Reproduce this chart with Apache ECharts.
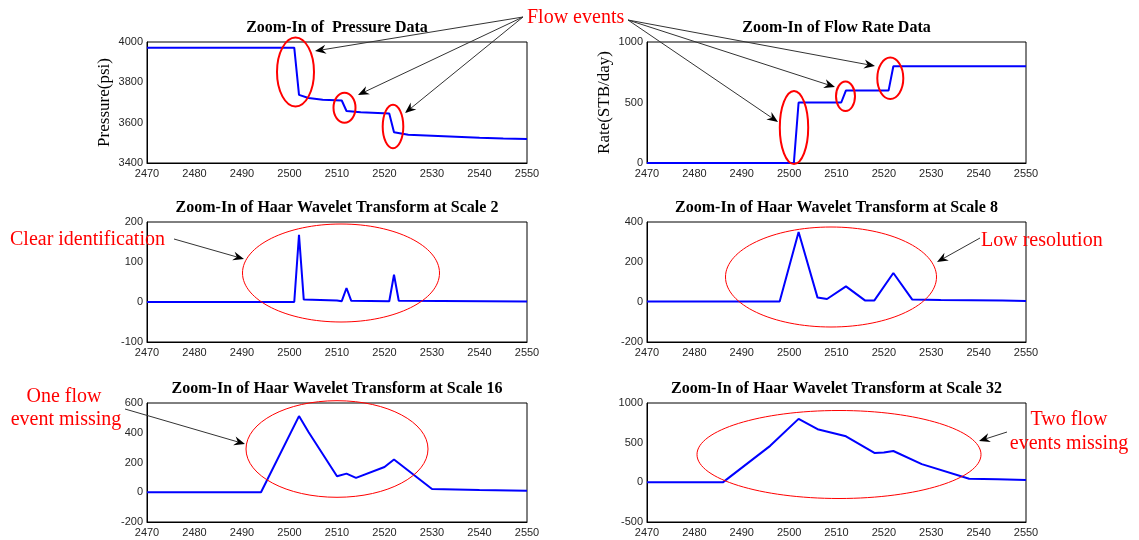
<!DOCTYPE html>
<html>
<head>
<meta charset="utf-8">
<script src="https://cdn.jsdelivr.net/npm/echarts@6/dist/echarts.min.js"></script>
<style>
  html, body { margin: 0; padding: 0; background: #fff; }
  #chart { width: 1139px; height: 540px; }
</style>
</head>
<body>
<div id="chart"></div>
<script>
// Shared time axis (hours)
const timeRange = [2470, 2550];
const timeStep = 10;

// Pressure and flow-rate records around the three flow events
const pressure = [[2470,3972],[2501,3972],[2502,3738],[2504,3722],[2507,3714],[2511,3710],[2512,3658],[2515,3652],[2521,3645],[2522,3552],[2525,3540],[2530,3535],[2535,3530],[2540,3525],[2545,3521],[2550,3519]];
const rate = [[2470,0],[2501,0],[2502,500],[2511,500],[2512,600],[2521,600],[2522,800],[2550,800]];

// Haar wavelet coefficients of the pressure signal at increasing scales
const haar2 = [[2470,0],[2501,0],[2502,168],[2503,6],[2510,4],[2511,2],[2512,35],[2513,3],[2521,2],[2522,68],[2523,3],[2550,1]];
const haar8 = [[2470,2],[2498,2],[2502,350],[2506,22],[2508,15],[2512,78],[2516,8],[2518,8],[2522,145],[2526,12],[2532,10],[2545,7],[2550,5]];
const haar16 = [[2470,0],[2494,0],[2502,512],[2504,405],[2510,107],[2512,125],[2514,97],[2520,170],[2522,220],[2530,22],[2540,15],[2550,10]];
const haar32 = [[2470,0],[2486,0],[2496,460],[2502,800],[2506,670],[2512,580],[2518,370],[2520,375],[2522,395],[2528,230],[2538,45],[2544,40],[2550,30]];

// Value axis ranges: [min, max, step]
const yRanges = [[3400,4000,200],[0,1000,500],[-100,200,100],[-200,400,200],[-200,600,200],[-500,1000,500]];
const panelTitles = [
  'Zoom-In of  Pressure Data',
  'Zoom-In of Flow Rate Data',
  'Zoom-In of Haar Wavelet Transform at Scale 2',
  'Zoom-In of Haar Wavelet Transform at Scale 8',
  'Zoom-In of Haar Wavelet Transform at Scale 16',
  'Zoom-In of Haar Wavelet Transform at Scale 32'
];
const yNames = ['Pressure(psi)', 'Rate(STB/day)', '', '', '', ''];
const seriesData = [pressure, rate, haar2, haar8, haar16, haar32];

// Panel boxes in a 3x2 layout
const grids = [
  { left: 147, top: 42,  width: 380, height: 121 },
  { left: 647, top: 42,  width: 379, height: 121 },
  { left: 147, top: 222, width: 380, height: 120 },
  { left: 647, top: 222, width: 379, height: 120 },
  { left: 147, top: 403, width: 380, height: 119 },
  { left: 647, top: 403, width: 379, height: 119 }
];

// Callout overlays (red ellipses, arrows and notes)
const ellipses = [
  { c: [295.5, 72, 18.5, 34.5], w: 2 },
  { c: [344.5, 107.7, 11, 15], w: 2 },
  { c: [393, 126.5, 10.3, 21.8], w: 2 },
  { c: [794, 127.5, 14.2, 36.5], w: 2 },
  { c: [845.5, 96.3, 9.5, 14.7], w: 2 },
  { c: [890.3, 78.3, 13, 20.7], w: 2 },
  { c: [341, 273, 98.5, 49], w: 1 },
  { c: [831, 277, 105.5, 50], w: 1 },
  { c: [337, 449, 91, 48.3], w: 1 },
  { c: [839, 454.5, 142, 44], w: 1 }
];
const arrows = [
  [523, 17, 315, 51], [523, 17, 358, 95], [523, 17, 405, 113],
  [628, 20, 778, 122], [628, 20, 835, 87], [628, 20, 875, 66],
  [174, 239, 244, 259], [980, 238, 937, 262],
  [125, 409, 245, 444], [1007, 432, 979, 441]
];
const notes = [
  { t: 'Flow events', x: 527, y: 18, a: 'left' },
  { t: 'Clear identification', x: 10, y: 240, a: 'left' },
  { t: 'Low resolution', x: 981, y: 241, a: 'left' },
  { t: 'One flow', x: 64, y: 397, a: 'center' },
  { t: 'event missing', x: 66, y: 420, a: 'center' },
  { t: 'Two flow', x: 1069, y: 420, a: 'center' },
  { t: 'events missing', x: 1069, y: 444, a: 'center' }
];

const serif = 'Liberation Serif, Times New Roman, serif';
const sans = 'Liberation Sans, Arial, sans-serif';

function arrowParts(a) {
  const [x1, y1, x2, y2] = a;
  const dx = x2 - x1, dy = y2 - y1, L = Math.hypot(dx, dy);
  const ux = dx / L, uy = dy / L, px = -uy, py = ux;
  const hl = 11, hw = 4.5, notch = 3.5;
  const bx = x2 - ux * hl, by = y2 - uy * hl;
  const nx = x2 - ux * (hl - notch), ny = y2 - uy * (hl - notch);
  return [
    { type: 'line', silent: true, shape: { x1, y1, x2: nx, y2: ny },
      style: { stroke: '#333', lineWidth: 1 } },
    { type: 'polygon', silent: true,
      shape: { points: [[x2, y2], [bx + px * hw, by + py * hw], [nx, ny], [bx - px * hw, by - py * hw]] },
      style: { fill: '#000' } }
  ];
}

const graphic = [];
ellipses.forEach(e => {
  graphic.push({ type: 'ellipse', silent: true, z: 100,
    shape: { cx: e.c[0], cy: e.c[1], rx: e.c[2], ry: e.c[3] },
    style: { fill: null, stroke: '#ff0000', lineWidth: e.w } });
});
arrows.forEach(a => arrowParts(a).forEach(p => { p.z = 101; graphic.push(p); }));
notes.forEach(n => {
  graphic.push({ type: 'text', silent: true, z: 102, x: n.x, y: n.y,
    style: { text: n.t, fill: '#ff0000', font: '20px ' + serif, align: n.a, verticalAlign: 'middle' } });
});

const plainNumber = v => String(v);

const option = {
  animation: false,
  backgroundColor: '#fff',
  title: panelTitles.map((t, i) => ({
    text: t,
    left: grids[i].left + grids[i].width / 2,
    top: grids[i].top - 14,
    textAlign: 'center',
    textVerticalAlign: 'middle',
    padding: 0,
    textStyle: { fontFamily: serif, fontWeight: 'bold', fontSize: 16, color: '#000' }
  })),
  grid: grids.map(g => Object.assign({ show: true, borderColor: '#000', borderWidth: 1,
    backgroundColor: '#fff', containLabel: false }, g)),
  xAxis: grids.map((g, i) => ({
    type: 'value', gridIndex: i, min: timeRange[0], max: timeRange[1], interval: timeStep,
    axisLine: { show: true, onZero: false, lineStyle: { color: '#000', width: 1 } },
    axisTick: { show: false },
    splitLine: { show: false },
    axisLabel: { fontFamily: sans, fontSize: 11, color: '#262626', margin: 5,
      showMinLabel: true, showMaxLabel: true, formatter: plainNumber }
  })),
  yAxis: grids.map((g, i) => ({
    type: 'value', gridIndex: i, min: yRanges[i][0], max: yRanges[i][1], interval: yRanges[i][2],
    name: yNames[i], nameLocation: 'middle', nameGap: 34, nameRotate: 90,
    nameTextStyle: { fontFamily: serif, fontSize: 17, color: '#000' },
    axisLine: { show: true, onZero: false, lineStyle: { color: '#000', width: 1 } },
    axisTick: { show: false },
    splitLine: { show: false },
    axisLabel: { fontFamily: sans, fontSize: 11, color: '#262626', margin: 4,
      showMinLabel: true, showMaxLabel: true, formatter: plainNumber }
  })),
  series: seriesData.map((d, i) => ({
    type: 'line', xAxisIndex: i, yAxisIndex: i, data: d,
    showSymbol: false, symbol: 'none',
    lineStyle: { color: '#0000ff', width: 2 },
    z: 5
  })),
  graphic: graphic
};

const chart = echarts.init(document.getElementById('chart'), null, { renderer: 'canvas' });
chart.setOption(option);
</script>
</body>
</html>
